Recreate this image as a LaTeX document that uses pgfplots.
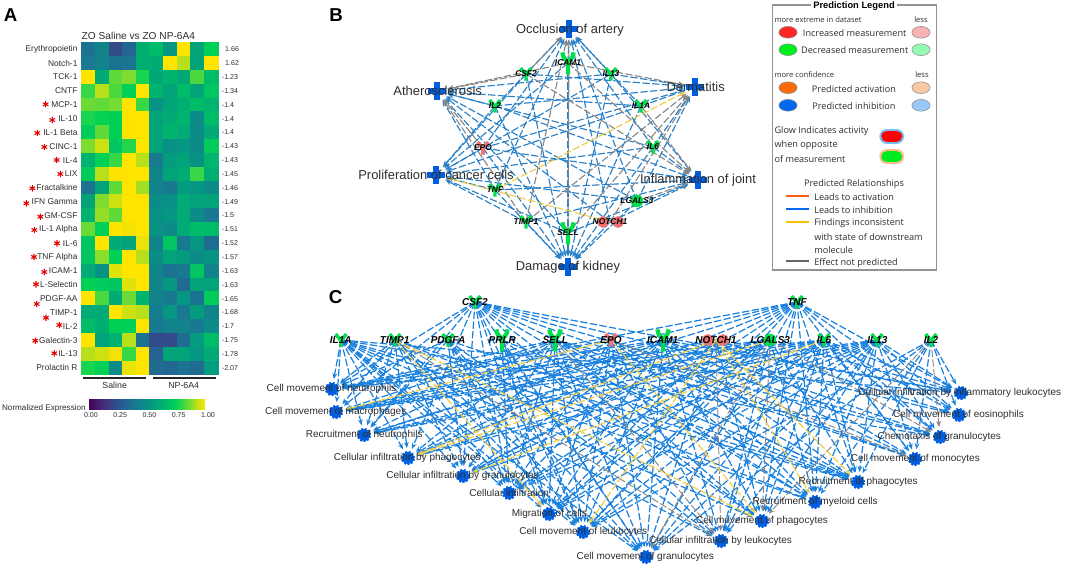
\documentclass[border=0pt]{standalone}
\usepackage{fontspec}
\setmainfont{Liberation Sans}
\newfontfamily\legfont{Open Sans}
\usepackage{pgfplots}
\pgfplotsset{compat=1.18}
\usetikzlibrary{arrows.meta}

% one canvas pixel of the reference = 0.75pt
\definecolor{edgeblue}{RGB}{25,128,222}
\definecolor{edgeblueb}{RGB}{40,128,200}
\definecolor{edgegray}{RGB}{135,135,135}
\definecolor{edgeyel}{RGB}{240,205,70}
\definecolor{hub}{RGB}{0,95,225}
\definecolor{genegreen}{RGB}{0,222,75}
\definecolor{genered}{RGB}{240,115,115}
\definecolor{txt}{RGB}{45,45,45}

\pgfdeclareplotmark{bigy}{%
  \pgfpathmoveto{\pgfqpoint{-4.2pt}{8pt}}%
  \pgfpathcurveto{\pgfqpoint{-4pt}{4pt}}{\pgfqpoint{-1.5pt}{2pt}}{\pgfqpoint{0pt}{1pt}}%
  \pgfpathcurveto{\pgfqpoint{1.5pt}{2pt}}{\pgfqpoint{4pt}{4pt}}{\pgfqpoint{4.2pt}{8pt}}%
  \pgfpathmoveto{\pgfqpoint{0pt}{1.5pt}}%
  \pgfpathlineto{\pgfqpoint{0pt}{-8.5pt}}%
  \pgfusepathqstroke}
\pgfdeclareplotmark{smally}{%
  \pgfpathmoveto{\pgfqpoint{-4pt}{4.5pt}}%
  \pgfpathlineto{\pgfqpoint{0pt}{-0.5pt}}%
  \pgfpathlineto{\pgfqpoint{4pt}{4.5pt}}%
  \pgfpathmoveto{\pgfqpoint{0pt}{0pt}}%
  \pgfpathlineto{\pgfqpoint{0pt}{-5pt}}%
  \pgfusepathqstroke}

\pgfplotsset{
  colormap={heat}{
    rgb255(0pt)=(68,1,84) rgb255(12pt)=(72,40,120) rgb255(27pt)=(40,90,145)
    rgb255(40pt)=(25,120,145) rgb255(52pt)=(5,150,130) rgb255(65pt)=(0,180,110)
    rgb255(75pt)=(0,210,85) rgb255(87pt)=(120,220,50) rgb255(94pt)=(200,225,20)
    rgb255(100pt)=(255,228,0)},
  edge/.style={quiver={u=\thisrow{xe}-\thisrow{x},v=\thisrow{ye}-\thisrow{y}},
    -{Stealth[length=4.5pt,width=3.6pt]},dash pattern=on 5.5pt off 1.8pt},
  canvas/.style={at={(0,0)},anchor=south west,scale only axis,width=798.75pt,height=425.25pt,
    xmin=0,xmax=1065,ymin=0,ymax=567,y dir=reverse,hide axis,clip=false},
}

\newcommand{\ft}[1]{\fontsize{#1}{#1}\selectfont}

\pgfplotstableread[row sep=\\]{
x y xe ye\\
568 63 569 29\\568 63 568 267\\568 63 436 175\\
526 74 695 87\\526 74 568 267\\526 74 436 175\\
611 74 569 29\\611 74 695 87\\611 74 698 180\\611 74 568 267\\611 74 436 175\\611 74 437 91\\
641 106 569 29\\641 106 695 87\\641 106 568 267\\641 106 436 175\\641 106 437 91\\
653 147 569 29\\653 147 695 87\\653 147 698 180\\653 147 568 267\\653 147 436 175\\653 147 437 91\\
637 201 569 29\\637 201 695 87\\637 201 568 267\\637 201 436 175\\637 201 437 91\\
610 222 569 29\\610 222 698 180\\610 222 568 267\\610 222 437 91\\
568 233 698 180\\568 233 568 267\\568 233 436 175\\568 233 437 91\\
526 222 698 180\\526 222 568 267\\526 222 436 175\\
495 190 569 29\\495 190 698 180\\495 190 568 267\\495 190 436 175\\495 190 437 91\\
483 148 569 29\\483 148 695 87\\483 148 698 180\\483 148 568 267\\483 148 436 175\\
495 106 569 29\\495 106 695 87\\495 106 698 180\\495 106 568 267\\495 106 436 175\\495 106 437 91\\
}\bblue
\pgfplotstableread[row sep=\\]{
x y xe ye\\
568 63 695 87\\568 63 698 180\\568 63 437 91\\
526 74 569 29\\526 74 698 180\\526 74 437 91\\
641 106 698 180\\637 201 698 180\\610 222 695 87\\
568 233 569 29\\568 233 695 87\\
526 222 569 29\\526 222 695 87\\526 222 437 91\\
483 148 437 91\\
}\bgray
\pgfplotstableread[row sep=\\]{
x y xe ye\\
610 222 436 175\\495 190 695 87\\
}\byel

\pgfplotstableread[row sep=\\]{
x y xe ye\\
475 302 332 389\\475 302 336 412\\475 302 364 435\\475 302 408 458\\475 302 463 476\\475 302 509 493\\
475 302 549 514\\475 302 583 532\\475 302 646 557\\475 302 721 541\\475 302 762 521\\475 302 815 502\\
475 302 858 482\\475 302 915 459\\475 302 940 437\\475 302 959 415\\475 302 961 393\\
797 302 332 389\\797 302 336 412\\797 302 364 435\\797 302 408 458\\797 302 463 476\\797 302 509 493\\
797 302 549 514\\797 302 583 532\\797 302 646 557\\797 302 721 541\\797 302 762 521\\797 302 815 502\\
797 302 858 482\\797 302 915 459\\797 302 940 437\\797 302 959 415\\797 302 961 393\\
341 340 332 389\\341 340 336 412\\341 340 364 435\\341 340 408 458\\341 340 463 476\\341 340 509 493\\
341 340 549 514\\341 340 583 532\\341 340 646 557\\341 340 721 541\\341 340 762 521\\341 340 815 502\\
341 340 858 482\\341 340 940 437\\341 340 961 393\\
395 340 332 389\\395 340 336 412\\395 340 364 435\\395 340 408 458\\395 340 463 476\\395 340 509 493\\
395 340 583 532\\395 340 646 557\\395 340 815 502\\395 340 858 482\\
448 340 332 389\\448 340 364 435\\448 340 463 476\\448 340 509 493\\448 340 549 514\\448 340 583 532\\
448 340 646 557\\448 340 721 541\\448 340 858 482\\
502 340 509 493\\502 340 549 514\\502 340 583 532\\502 340 646 557\\502 340 762 521\\502 340 858 482\\
555 340 332 389\\555 340 336 412\\555 340 364 435\\555 340 408 458\\555 340 463 476\\555 340 509 493\\
555 340 549 514\\555 340 583 532\\555 340 646 557\\555 340 762 521\\555 340 815 502\\555 340 858 482\\
555 340 915 459\\555 340 940 437\\
611 340 332 389\\611 340 408 458\\611 340 509 493\\611 340 549 514\\611 340 583 532\\611 340 646 557\\
611 340 721 541\\611 340 815 502\\611 340 858 482\\
663 340 332 389\\663 340 336 412\\663 340 364 435\\663 340 408 458\\663 340 463 476\\663 340 509 493\\
663 340 549 514\\663 340 583 532\\663 340 646 557\\663 340 721 541\\663 340 762 521\\663 340 815 502\\
663 340 858 482\\663 340 915 459\\663 340 940 437\\663 340 961 393\\
716 340 336 412\\716 340 463 476\\716 340 549 514\\716 340 646 557\\716 340 762 521\\716 340 915 459\\716 340 959 415\\
770 340 332 389\\770 340 336 412\\770 340 364 435\\770 340 463 476\\770 340 509 493\\770 340 549 514\\
770 340 583 532\\770 340 721 541\\770 340 815 502\\770 340 858 482\\770 340 961 393\\
824 340 332 389\\824 340 336 412\\824 340 364 435\\824 340 408 458\\824 340 509 493\\824 340 549 514\\
824 340 583 532\\824 340 646 557\\824 340 721 541\\824 340 762 521\\824 340 815 502\\824 340 858 482\\
824 340 915 459\\824 340 940 437\\824 340 959 415\\824 340 961 393\\
877 340 336 412\\877 340 364 435\\877 340 408 458\\877 340 463 476\\877 340 509 493\\877 340 549 514\\
877 340 583 532\\877 340 646 557\\877 340 721 541\\877 340 762 521\\877 340 815 502\\877 340 858 482\\
877 340 915 459\\877 340 940 437\\877 340 959 415\\877 340 961 393\\
931 340 583 532\\931 340 646 557\\931 340 815 502\\931 340 858 482\\931 340 915 459\\931 340 959 415\\931 340 961 393\\
}\cblue
\pgfplotstableread[row sep=\\]{
x y xe ye\\
395 340 721 541\\555 340 721 541\\611 340 915 459\\716 340 721 541\\770 340 646 557\\770 340 762 521\\
770 340 940 437\\931 340 940 437\\931 340 762 521\\
}\cgray
\pgfplotstableread[row sep=\\]{
x y xe ye\\
395 340 549 514\\395 340 762 521\\611 340 336 412\\611 340 762 521\\716 340 408 458\\716 340 583 532\\
716 340 815 502\\716 340 858 482\\770 340 408 458\\824 340 463 476\\
}\cyel

\begin{document}
\begin{tikzpicture}
\path[use as bounding box] (0,0) rectangle (798.75pt,425.25pt);

% panel A heatmap
\begin{axis}[
  at={(61.1pt,144.2pt)},anchor=south west,
  scale only axis,width=102.4pt,height=249.2pt,
  xmin=-0.5,xmax=9.5,ymin=-0.5,ymax=23.5,y dir=reverse,
  clip=false,axis line style={draw=none},major tick length=0pt,
  xtick=\empty,ytick={0,...,23},
  yticklabels={Erythropoietin,Notch-1,TCK-1,CNTF,MCP-1,IL-10,IL-1 Beta,CINC-1,IL-4,LIX,Fractalkine,IFN Gamma,GM-CSF,IL-1 Alpha,IL-6,TNF Alpha,ICAM-1,L-Selectin,PDGF-AA,TIMP-1,IL-2,Galectin-3,IL-13,Prolactin R},
  yticklabel style={font=\ft{6.3},text=txt,inner sep=0pt,xshift=-2.8pt},
  colormap name=heat,point meta min=-0.023,point meta max=0.974,
  title={ZO Saline vs ZO NP-6A4},
  every axis title shift=0pt,
  title style={font=\ft{7.6},text=txt,at={(0,1)},anchor=south west,inner sep=0pt,yshift=2pt},
  colorbar horizontal,
  colorbar style={
    at={(parent axis.south west)},anchor=north west,
    xshift=5.1pt,yshift=-9.7pt,
    scale only axis,width=87.5pt,height=8pt,
    xtick={0,0.25,0.5,0.75},
    xticklabels={0.00,0.25,0.50,0.75},
    xticklabel style={font=\ft{5.3},text=txt,inner sep=1pt,yshift=-0.6pt},
    major tick length=0pt,axis line style={draw=none},
  },
]
\addplot[matrix plot*,mesh/cols=10,point meta=explicit]
  table[x index=0,y index=1,meta index=2,row sep=\\]{
0 0 .35\\1 0 .42\\2 0 .2\\3 0 .3\\4 0 .6\\5 0 .65\\6 0 .5\\7 0 1\\8 0 .55\\9 0 .72\\
0 1 .38\\1 1 .42\\2 1 .35\\3 1 .36\\4 1 .6\\5 1 .58\\6 1 1\\7 1 .9\\8 1 .55\\9 1 1\\
0 2 1\\1 2 .58\\2 2 .82\\3 2 .85\\4 2 .75\\5 2 .57\\6 2 .62\\7 2 .57\\8 2 .8\\9 2 .65\\
0 3 .78\\1 3 .9\\2 3 .8\\3 3 .72\\4 3 1\\5 3 .62\\6 3 .55\\7 3 .65\\8 3 .55\\9 3 .68\\
0 4 .83\\1 4 .82\\2 4 .84\\3 4 1\\4 4 .78\\5 4 .48\\6 4 .55\\7 4 .6\\8 4 .65\\9 4 .62\\
0 5 .75\\1 5 .73\\2 5 .72\\3 5 1\\4 5 1\\5 5 .55\\6 5 .58\\7 5 .62\\8 5 .45\\9 5 .65\\
0 6 .7\\1 6 .82\\2 6 .72\\3 6 .97\\4 6 1\\5 6 .55\\6 6 .62\\7 6 .58\\8 6 .45\\9 6 .58\\
0 7 .85\\1 7 .92\\2 7 .68\\3 7 .76\\4 7 1\\5 7 .55\\6 7 .47\\7 7 .5\\8 7 .45\\9 7 .7\\
0 8 .62\\1 8 .72\\2 8 .78\\3 8 1\\4 8 .9\\5 8 .38\\6 8 .52\\7 8 .55\\8 8 .48\\9 8 .63\\
0 9 .7\\1 9 .9\\2 9 .97\\3 9 1\\4 9 1\\5 9 .42\\6 9 .55\\7 9 .58\\8 9 .78\\9 9 .6\\
0 10 .35\\1 10 .55\\2 10 .82\\3 10 1\\4 10 .88\\5 10 .42\\6 10 .38\\7 10 .52\\8 10 .5\\9 10 .45\\
0 11 .55\\1 11 .85\\2 11 .92\\3 11 1\\4 11 1\\5 11 .45\\6 11 .47\\7 11 .58\\8 11 .55\\9 11 .55\\
0 12 .62\\1 12 .87\\2 12 .82\\3 12 1\\4 12 1\\5 12 .47\\6 12 .5\\7 12 .58\\8 12 .45\\9 12 .38\\
0 13 .83\\1 13 .72\\2 13 .97\\3 13 .96\\4 13 1\\5 13 .48\\6 13 .45\\7 13 .58\\8 13 .65\\9 13 .65\\
0 14 .68\\1 14 1\\2 14 .58\\3 14 .55\\4 14 .95\\5 14 .42\\6 14 .68\\7 14 .38\\8 14 .5\\9 14 .33\\
0 15 .68\\1 15 .86\\2 15 .72\\3 15 1\\4 15 .9\\5 15 .45\\6 15 .55\\7 15 .52\\8 15 .45\\9 15 .48\\
0 16 .58\\1 16 .48\\2 16 .94\\3 16 1\\4 16 1\\5 16 .43\\6 16 .35\\7 16 .38\\8 16 .68\\9 16 .42\\
0 17 .72\\1 17 .7\\2 17 .68\\3 17 .94\\4 17 1\\5 17 .42\\6 17 .5\\7 17 .32\\8 17 .55\\9 17 .55\\
0 18 1\\1 18 .8\\2 18 .58\\3 18 .83\\4 18 .62\\5 18 .42\\6 18 .38\\7 18 .5\\8 18 .35\\9 18 .7\\
0 19 .58\\1 19 .58\\2 19 1\\3 19 .92\\4 19 .9\\5 19 .4\\6 19 .5\\7 19 .38\\8 19 .52\\9 19 .42\\
0 20 .65\\1 20 .6\\2 20 .72\\3 20 .72\\4 20 1\\5 20 .38\\6 20 .42\\7 20 .42\\8 20 .38\\9 20 .45\\
0 21 1\\1 21 .55\\2 21 .62\\3 21 .9\\4 21 .35\\5 21 .2\\6 21 .2\\7 21 .33\\8 21 .52\\9 21 .65\\
0 22 .9\\1 22 .92\\2 22 .96\\3 22 .78\\4 22 1\\5 22 .28\\6 22 .55\\7 22 .55\\8 22 .5\\9 22 .58\\
0 23 .75\\1 23 .72\\2 23 .45\\3 23 .95\\4 23 1\\5 23 .33\\6 23 .3\\7 23 .35\\8 23 .32\\9 23 .52\\
};
% fold change column right of the heatmap
\addplot[only marks,mark=none,point meta=explicit symbolic,
  nodes near coords,
  every node near coord/.style={anchor=west,inner sep=0pt,font=\ft{5.3},text=txt}]
  table[x index=0,y index=1,meta index=2,row sep=\\]{
10.01 0 1.66\\10.01 1 1.62\\9.77 2 -1.23\\9.77 3 -1.34\\9.77 4 -1.4\\9.77 5 -1.4\\9.77 6 -1.4\\9.77 7 -1.43\\
9.77 8 -1.43\\9.77 9 -1.45\\9.77 10 -1.46\\9.77 11 -1.49\\9.77 12 -1.5\\9.77 13 -1.51\\9.77 14 -1.52\\9.77 15 -1.57\\
9.77 16 -1.63\\9.77 17 -1.63\\9.77 18 -1.65\\9.77 19 -1.68\\9.77 20 -1.7\\9.77 21 -1.75\\9.77 22 -1.78\\9.77 23 -2.07\\
};
\end{axis}

% plots on a canvas in reference pixels
\begin{axis}[canvas]
% panel A extras
\addplot[only marks,mark=asterisk,mark size=2.4pt,color=red!90!black,mark options={line width=.8pt}] coordinates {
(45.7,104.3)(52.3,120)(37.3,133)(44.3,147)(56.7,160)(60.3,174)(32.3,188.3)(26.3,203.3)(40.3,216.7)(34.3,230)
(57,243.3)(34,257)(44.3,272)(36,284.3)(36.7,304)(46,317.7)(59.3,325)(35.3,340.7)(54.3,353.3)};
\addplot[black!85,line width=1.3pt] coordinates {(83.3,377.7)(146,377.7)};
\addplot[black!85,line width=1.3pt] coordinates {(153,377.7)(215.7,377.7)};

% panel B edges
\addplot[edge,edgeblueb,line width=.85pt,shorten >=8pt] table[x=x,y=y] {\bblue};
\addplot[edge,edgegray,line width=.85pt,shorten >=8pt] table[x=x,y=y] {\bgray};
\addplot[edge,edgeyel,line width=.85pt,shorten >=8pt] table[x=x,y=y] {\byel};
% panel B hubs and genes
\addplot[only marks,mark=+,mark size=6.8pt,color=hub,mark options={line width=5pt}] coordinates {
(569,29)(695,87)(698,180)(568,267)(436,175)(437,91)};
\addplot[only marks,mark=bigy,color=genegreen,mark options={line width=3.2pt}] coordinates {(568,63)(568,233)};
\addplot[only marks,mark=smally,color=genegreen,mark options={line width=2.6pt}] coordinates {
(526,74)(611,74)(641,106)(653,147)(526,222)(495,190)(495,106)};
\addplot[only marks,mark=smally,color=genered,mark options={line width=2.8pt}] coordinates {(483,148)};
\addplot[only marks,mark=*,mark size=4.2pt,color=genered] coordinates {(603,222)(618,222)};
\addplot[only marks,mark=*,mark size=4.5pt,color=genegreen] coordinates {(637,201)};

% panel C edges
\addplot[edge,edgeblue,line width=.9pt,shorten >=7.5pt] table[x=x,y=y] {\cblue};
\addplot[edge,edgegray,line width=.7pt,shorten >=7.5pt] table[x=x,y=y] {\cgray};
\addplot[edge,edgeyel,line width=.9pt,shorten >=7.5pt] table[x=x,y=y] {\cyel};
% panel C targets and genes
\addplot[only marks,mark=*,mark size=4.5pt,color=hub,
  mark options={line width=1.6pt,dash pattern=on 1.3pt off 1.3pt,fill=hub}] coordinates {
(332,389)(336,412)(364,435)(408,458)(463,476)(509,493)(549,514)(583,532)(646,557)(721,541)(762,521)(815,502)
(858,482)(915,459)(940,437)(959,415)(961,393)};
\addplot[only marks,mark=bigy,color=genegreen,mark options={line width=3.2pt}] coordinates {(502,340)(555,340)(663,340)};
\addplot[only marks,mark=smally,color=genegreen,mark options={line width=2.6pt}] coordinates {
(475,302)(797,302)(341,340)(395,340)(448,340)(824,340)(877,340)(931,340)};
\addplot[only marks,mark=smally,color=genered,mark options={line width=2.8pt}] coordinates {(611,340)};
\addplot[only marks,mark=*,mark size=4.2pt,color=genered] coordinates {(708,340)(723,340)};
\addplot[only marks,mark=*,mark size=4.5pt,color=genegreen] coordinates {(770,340)};

% prediction legend
\addplot[gray!85,line width=.9pt] coordinates {(772.3,5)(936.7,5)(936.7,270)(772.3,270)(772.3,5)};
\addplot[only marks,mark=*,mark size=4.4pt,color=black!45,mark options={xscale=1.55,fill=red!85}] coordinates {(788,32.3)};
\addplot[only marks,mark=*,mark size=4.4pt,color=black!45,mark options={xscale=1.55,fill={rgb,255:red,250;green,178;blue,178}}] coordinates {(921,32.3)};
\addplot[only marks,mark=*,mark size=4.4pt,color=black!45,mark options={xscale=1.55,fill={rgb,255:red,0;green,240;blue,30}}] coordinates {(788,49.7)};
\addplot[only marks,mark=*,mark size=4.4pt,color=black!45,mark options={xscale=1.55,fill={rgb,255:red,150;green,250;blue,180}}] coordinates {(921,49.7)};
\addplot[only marks,mark=*,mark size=4.4pt,color=black!45,mark options={xscale=1.55,fill={rgb,255:red,250;green,105;blue,10}}] coordinates {(788,87.7)};
\addplot[only marks,mark=*,mark size=4.4pt,color=black!45,mark options={xscale=1.55,fill={rgb,255:red,250;green,200;blue,160}}] coordinates {(921,87.7)};
\addplot[only marks,mark=*,mark size=4.4pt,color=black!45,mark options={xscale=1.55,fill={rgb,255:red,0;green,105;blue,240}}] coordinates {(788,105.3)};
\addplot[only marks,mark=*,mark size=4.4pt,color=black!45,mark options={xscale=1.55,fill={rgb,255:red,155;green,200;blue,250}}] coordinates {(921,105.3)};
\addplot[color={rgb,255:red,120;green,190;blue,240},line width=11.5pt,line cap=round] coordinates {(887,136.3)(896.4,136.3)};
\addplot[red,line width=8.5pt,line cap=round] coordinates {(887,136.3)(896.4,136.3)};
\addplot[color={rgb,255:red,250;green,190;blue,140},line width=11.5pt,line cap=round] coordinates {(887,156.7)(896.4,156.7)};
\addplot[color={rgb,255:red,0;green,235;blue,30},line width=8.5pt,line cap=round] coordinates {(887,156.7)(896.4,156.7)};
\addplot[color={rgb,255:red,250;green,95;blue,20},line width=1.3pt] coordinates {(786,195.7)(809.3,195.7)};
\addplot[color={rgb,255:red,0;green,105;blue,240},line width=1.3pt] coordinates {(786,209)(809.3,209)};
\addplot[color={rgb,255:red,250;green,190;blue,0},line width=1.3pt] coordinates {(786,221.7)(809.3,221.7)};
\addplot[color=black!60,line width=1.3pt] coordinates {(786,261.3)(809.3,261.3)};
\end{axis}

% all text of the canvas goes over the plots, in a second axis with the same frame
\begin{axis}[canvas]
\node[font=\ft{6.6},text=txt] at (114.7,385.7) {Saline};
\node[font=\ft{6.6},text=txt] at (183.7,385.7) {NP-6A4};
\node[font=\ft{6.1},text=txt,anchor=east,inner sep=0pt] at (86,408) {Normalized Expression};
\node[font=\ft{5.3},text=txt] at (208,415.5) {1.00};

\begin{scope}[every node/.style={font=\ft{9.7},text=txt,inner sep=0pt}]
\node at (570,30) {Occlusion of artery};
\node at (695.7,87.3) {Dermatitis};
\node at (437.7,91) {Atherosclerosis};
\node at (436,175) {Proliferation of cancer cells};
\node at (698,180) {Inflammation of joint};
\node at (568,266.7) {Damage of kidney};
\end{scope}
\begin{scope}[every node/.style={font=\ft{6.3}\bfseries\itshape,text=black,inner sep=0pt}]
\node at (568,63) {ICAM1};\node at (526,74) {CSF2};\node at (611,74) {IL13};
\node at (641,106) {IL1A};\node at (653,147) {IL6};\node at (637,201) {LGALS3};
\node at (610,222) {NOTCH1};\node at (568,233) {SELL};\node at (526,222) {TIMP1};
\node at (495,190) {TNF};\node at (483,148) {EPO};\node at (495,106) {IL2};
\end{scope}

\begin{scope}[every node/.style={font=\ft{7.5},text=txt,inner sep=0pt}]
\node at (331.5,389) {Cell movement of neutrophils};
\node at (335.7,412) {Cell movement of macrophages};
\node at (364.2,434.7) {Recruitment of neutrophils};
\node at (407.3,458.3) {Cellular infiltration by phagocytes};
\node at (462.5,476) {Cellular infiltration by granulocytes};
\node at (509.2,492.7) {Cellular infiltration};
\node at (549.3,513.7) {Migration of cells};
\node at (583.3,532) {Cell movement of leukocytes};
\node at (645.3,556.7) {Cell movement of granulocytes};
\node at (720.5,540.7) {Cellular infiltration by leukocytes};
\node at (762,520.7) {Cell movement of phagocytes};
\node at (815.2,502.3) {Recruitment of myeloid cells};
\node at (858.2,481.7) {Recruitment of phagocytes};
\node at (915.3,458.7) {Cell movement of monocytes};
\node at (939.3,436.7) {Chemotaxis of granulocytes};
\node at (958.5,415.3) {Cell movement of eosinophils};
\node at (959.7,392.7) {Cellular infiltration by inflammatory leukocytes};
\end{scope}
\begin{scope}[every node/.style={font=\ft{7.5}\bfseries\itshape,text=black,inner sep=0pt}]
\node at (475,302) {CSF2};\node at (797,302) {TNF};
\node at (340.7,340) {IL1A};\node at (394.7,340) {TIMP1};\node at (448,340) {PDGFA};
\node at (502.3,340) {PRLR};\node at (555.3,340) {SELL};\node at (611,340) {EPO};
\node at (662.7,340) {ICAM1};\node at (716,340) {NOTCH1};\node at (770.3,340) {LGALS3};
\node at (824,340) {IL6};\node at (877.3,340) {IL13};\node at (931,340) {IL2};
\end{scope}

\node[font=\ft{7}\bfseries,fill=white,inner sep=1.5pt] at (854,5.7) {Prediction Legend};
\begin{scope}[every node/.style={font=\legfont\ft{6.85},text=txt,inner sep=0pt}]
\node[font=\legfont\ft{5.7},anchor=west] at (774.3,19.3) {more extreme in dataset};
\node[font=\legfont\ft{5.7}] at (921,19.3) {less};
\node at (854.7,33.3) {Increased measurement};
\node at (854.7,50.3) {Decreased measurement};
\node[font=\legfont\ft{5.7},anchor=west] at (774.3,74.7) {more confidence};
\node[font=\legfont\ft{5.7}] at (922,74.7) {less};
\node at (854,88.7) {Predicted activation};
\node at (854,106) {Predicted inhibition};
\node[anchor=west] at (774.3,131.3) {Glow Indicates activity};
\node[anchor=west] at (774.3,145.3) {when opposite};
\node[anchor=west] at (774.3,159) {of measurement};
\node at (854,184.3) {Predicted Relationships};
\node[anchor=west] at (814,197.3) {Leads to activation};
\node[anchor=west] at (814,210.3) {Leads to inhibition};
\node[anchor=west] at (814,223.3) {Findings inconsistent};
\node[anchor=west] at (814,236.7) {with state of downstream};
\node[anchor=west] at (814,249.7) {molecule};
\node[anchor=west] at (814,262.7) {Effect not predicted};
\end{scope}

\node[font=\ft{14}\bfseries,text=black,inner sep=0pt] at (10.7,15) {A};
\node[font=\ft{14}\bfseries,text=black,inner sep=0pt] at (336,15) {B};
\node[font=\ft{14}\bfseries,text=black,inner sep=0pt] at (335.7,297) {C};
\end{axis}
\end{tikzpicture}
\end{document}
